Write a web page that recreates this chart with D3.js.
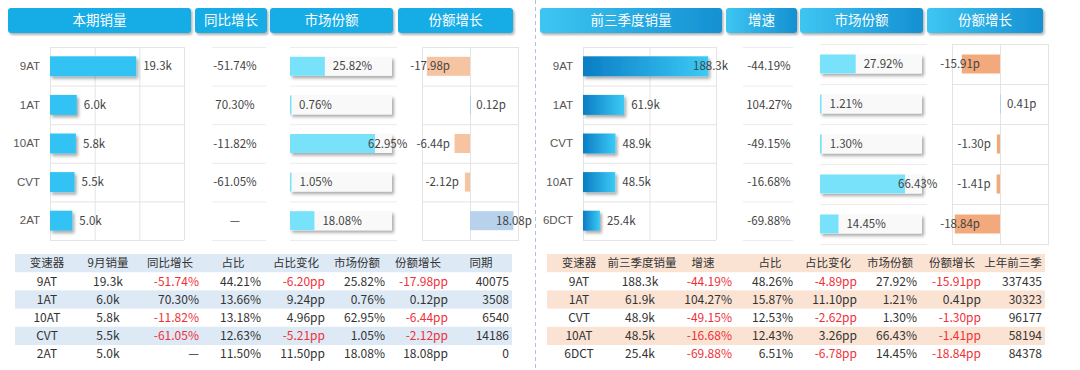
<!DOCTYPE html>
<html><head><meta charset="utf-8">
<script src="https://cdn.jsdelivr.net/npm/d3@7"></script>
<style>
body{margin:0;background:#fff;}
svg{display:block;font-family:"Microsoft YaHei","Noto Sans CJK SC",sans-serif;}
</style>
</head><body>
<svg id="chart" width="1080" height="370"></svg>
<script>
// ---------------- DATA ----------------
// Left panel: current period (September)
const leftButtons = ['本期销量', '同比增长', '市场份额', '份额增长'];
const leftCategories = ['9AT', '1AT', '10AT', 'CVT', '2AT'];
const leftSales = [19.3, 6.0, 5.8, 5.5, 5.0];          // k units
const leftYoY = [-51.74, 70.30, -11.82, -61.05, null];  // %
const leftShare = [25.82, 0.76, 62.95, 1.05, 18.08];    // %
const leftShareChg = [-17.98, 0.12, -6.44, -2.12, 18.08]; // pp
const leftRatio = [44.21, 13.66, 13.18, 12.63, 11.50];
const leftRatioChg = [-6.20, 9.24, 4.96, -5.21, 11.50];
const leftPrev = [40075, 3508, 6540, 14186, 0];
const leftTableHeaders = ['变速器', '9月销量', '同比增长', '占比', '占比变化', '市场份额', '份额增长', '同期'];
const leftSalesTicks = [0, 10, 20, 30];

// Right panel: first three quarters
const rightButtons = ['前三季度销量', '增速', '市场份额', '份额增长'];
const rightCategories = ['9AT', '1AT', 'CVT', '10AT', '6DCT'];
const rightSales = [188.3, 61.9, 48.9, 48.5, 25.4];
const rightYoY = [-44.19, 104.27, -49.15, -16.68, -69.88];
const rightShare = [27.92, 1.21, 1.30, 66.43, 14.45];
const rightShareChg = [-15.91, 0.41, -1.30, -1.41, -18.84];
const rightRatio = [48.26, 15.87, 12.53, 12.43, 6.51];
const rightRatioChg = [-4.89, 11.10, -2.62, 3.26, -6.78];
const rightPrev = [337435, 30323, 96177, 58194, 84378];
const rightTableHeaders = ['变速器', '前三季度销量', '增速', '占比', '占比变化', '市场份额', '份额增长', '上年前三季'];
const rightSalesTicks = [0, 100, 200];

const shareChgDomain = [-20, 20];

// ---------------- SETUP ----------------
const svg = d3.select('#chart');
const defs = svg.append('defs');
const sh = defs.append('filter').attr('id', 'shadow')
  .attr('x', '-10%').attr('y', '-30%').attr('width', '130%').attr('height', '180%');
sh.append('feDropShadow').attr('dx', 2).attr('dy', 2.5).attr('stdDeviation', 1.4)
  .attr('flood-color', '#000').attr('flood-opacity', 0.33);
const sh2 = defs.append('filter').attr('id', 'btnShadow')
  .attr('x', '-5%').attr('y', '-20%').attr('width', '115%').attr('height', '160%');
sh2.append('feDropShadow').attr('dx', 1.5).attr('dy', 2).attr('stdDeviation', 1.2)
  .attr('flood-color', '#000').attr('flood-opacity', 0.3);

function grad(id, c0, c1) {
  const g = defs.append('linearGradient').attr('id', id).attr('x1', '0%').attr('x2', '100%').attr('y1', '0%').attr('y2', '0%');
  g.append('stop').attr('offset', '0%').attr('stop-color', c0);
  g.append('stop').attr('offset', '100%').attr('stop-color', c1);
}
grad('rightBar', '#0a7dc4', '#3ccaf6');
grad('rightBtn', '#3ec6f2', '#1490d2');

const RED = '#ef3038';
const fmtK = v => v.toFixed(1) + 'k';
const fmtPct = v => v == null ? '—' : v.toFixed(2) + '%';
const fmtP = v => v.toFixed(2) + 'p';
const fmtPP = v => v.toFixed(2) + 'pp';
const fmtInt = v => String(v);
const fmtId = v => v;

// separator
svg.append('line').attr('x1', 535.5).attr('x2', 535.5).attr('y1', 0).attr('y2', 370)
  .attr('stroke', '#b0c0e2').attr('stroke-width', 1).attr('stroke-dasharray', '4,3');

function drawPanel(P) {
  const g = svg.append('g');

  // ---- header buttons
  P.btn.forEach((b, i) => {
    g.append('rect').attr('x', b[0]).attr('y', 8).attr('width', b[1] - b[0]).attr('height', 25)
      .attr('rx', 3).attr('fill', P.btnFill).attr('filter', 'url(#btnShadow)');
    g.append('text').attr('x', (b[0] + b[1]) / 2).attr('y', 20.5).attr('dy', '0.35em')
      .attr('text-anchor', 'middle').attr('fill', '#fff').attr('font-size', 13.5)
      .text(P.buttons[i]);
  });

  const gridC = '#e4e4e4';
  const labC = '#444';

  // ---- sales bar chart
  const B = P.bar;
  const y = d3.scaleBand().domain(P.cats).range([B.y0, B.y1]);
  const x = d3.scaleLinear().domain([0, d3.max(P.ticks)]).range([B.x0, B.x1]);
  const gx = g.append('g').attr('transform', `translate(0,${B.y0})`)
    .call(d3.axisTop(x).tickValues(P.ticks).tickSize(-(B.y1 - B.y0)).tickFormat(''));
  gx.select('.domain').remove();
  gx.selectAll('.tick line').attr('stroke', gridC);
  g.selectAll(null).data(P.cats.concat(['__end'])).join('line')
    .attr('x1', B.x0).attr('x2', B.x1)
    .attr('y1', d => (d === '__end' ? B.y1 : y(d)) + 0.5).attr('y2', d => (d === '__end' ? B.y1 : y(d)) + 0.5)
    .attr('stroke', gridC);
  const gy = g.append('g').attr('transform', `translate(${B.x0},0)`)
    .call(d3.axisLeft(y).tickSize(0).tickPadding(10));
  gy.select('.domain').remove();
  gy.selectAll('text').attr('font-size', 11.5).attr('fill', '#555').attr('font-family', null);
  const bh = 20;
  g.selectAll(null).data(P.cats).join('rect')
    .attr('x', x(0)).attr('y', d => y(d) + (y.bandwidth() - bh) / 2)
    .attr('width', (d, i) => x(P.sales[i]) - x(0)).attr('height', bh)
    .attr('fill', P.barFill).attr('filter', 'url(#shadow)');
  g.selectAll(null).data(P.cats).join('text')
    .attr('x', (d, i) => Math.min(x(P.sales[i]) + 7, B.x1 - 23))
    .attr('y', d => y(d) + y.bandwidth() / 2).attr('dy', '0.35em')
    .attr('font-size', 11.5).attr('fill', labC)
    .text((d, i) => fmtK(P.sales[i]));

  // ---- yoy column
  const Y = P.yoyL;
  g.selectAll(null).data(P.cats.concat(['__end'])).join('line')
    .attr('x1', Y.x0).attr('x2', Y.x1)
    .attr('y1', d => (d === '__end' ? B.y1 : y(d)) + 0.5).attr('y2', d => (d === '__end' ? B.y1 : y(d)) + 0.5)
    .attr('stroke', '#ececec');
  g.selectAll(null).data(P.cats).join('text')
    .attr('x', Y.cx).attr('y', d => y(d) + y.bandwidth() / 2).attr('dy', '0.35em')
    .attr('text-anchor', 'middle').attr('font-size', 11.5).attr('fill', labC)
    .text((d, i) => fmtPct(P.yoyV[i]));

  // ---- share column
  const S = P.share;
  const ys = d3.scaleBand().domain(P.cats).range([S.y0, S.y1]);
  const xs = d3.scaleLinear().domain([0, d3.max(P.shareV) * 1.2]).range([S.x0, S.x1]);
  g.selectAll(null).data(P.cats.concat(['__end'])).join('line')
    .attr('x1', S.x0).attr('x2', S.x1 + 5)
    .attr('y1', d => (d === '__end' ? S.y1 : ys(d)) + 0.5).attr('y2', d => (d === '__end' ? S.y1 : ys(d)) + 0.5)
    .attr('stroke', '#ececec');
  const th = 19;
  g.selectAll(null).data(P.cats).join('rect')
    .attr('x', S.x0).attr('y', d => ys(d) + (ys.bandwidth() - th) / 2)
    .attr('width', S.x1 - S.x0).attr('height', th)
    .attr('fill', '#f9f9f9').attr('filter', 'url(#shadow)');
  g.selectAll(null).data(P.cats).join('rect')
    .attr('x', S.x0).attr('y', d => ys(d) + (ys.bandwidth() - th) / 2)
    .attr('width', (d, i) => Math.max(1.5, xs(P.shareV[i]) - xs(0))).attr('height', th)
    .attr('fill', '#78e2fb');
  g.selectAll(null).data(P.cats).join('text')
    .attr('x', (d, i) => Math.min(xs(P.shareV[i]) + 8, S.x1 - 24))
    .attr('y', d => ys(d) + ys.bandwidth() / 2).attr('dy', '0.35em')
    .attr('font-size', 11.5).attr('fill', labC)
    .text((d, i) => P.shareV[i].toFixed(2) + '%');

  // ---- share change column
  const C = P.chg;
  const yc = d3.scaleBand().domain(P.cats).range([C.y0, C.y1]);
  const xc = d3.scaleLinear().domain(shareChgDomain).range([C.x0, C.x1]);
  g.append('rect').attr('x', C.x0 + 0.5).attr('y', C.y0 + 0.5).attr('width', C.x1 - C.x0).attr('height', C.y1 - C.y0)
    .attr('fill', 'none').attr('stroke', gridC);
  g.append('line').attr('x1', xc(0) + 0.5).attr('x2', xc(0) + 0.5).attr('y1', C.y0).attr('y2', C.y1).attr('stroke', gridC);
  g.selectAll(null).data(P.cats.slice(1)).join('line')
    .attr('x1', C.x0).attr('x2', C.x1)
    .attr('y1', d => yc(d) + 0.5).attr('y2', d => yc(d) + 0.5).attr('stroke', gridC);
  g.selectAll(null).data(P.cats).join('rect')
    .attr('x', (d, i) => Math.min(xc(0), xc(P.chgV[i])))
    .attr('y', d => yc(d) + (yc.bandwidth() - th) / 2)
    .attr('width', (d, i) => Math.max(1, Math.abs(xc(P.chgV[i]) - xc(0)))).attr('height', th)
    .attr('fill', (d, i) => P.chgV[i] < 0 ? P.negFill : '#b9d2ec');
  g.selectAll(null).data(P.cats).join('text')
    .attr('x', (d, i) => {
      const v = P.chgV[i];
      return v < 0 ? Math.max(xc(v) - 6, C.x0 + 28) : Math.min(xc(v) + 6, C.x1 - 22);
    })
    .attr('text-anchor', (d, i) => P.chgV[i] < 0 ? 'end' : 'start')
    .attr('y', d => yc(d) + yc.bandwidth() / 2).attr('dy', '0.35em')
    .attr('font-size', 11.5).attr('fill', labC)
    .text((d, i) => fmtP(P.chgV[i]));

  // ---- table
  const T = P.table;
  const rh = 18.2;
  const rowsY = d3.range(P.cats.length + 1).map(i => T.y0 + i * rh);
  g.append('rect').attr('x', T.x0).attr('y', T.y0).attr('width', T.x1 - T.x0).attr('height', rh).attr('fill', P.stripe);
  g.selectAll(null).data(P.cats).join('rect')
    .attr('x', T.x0).attr('y', (d, i) => rowsY[i + 1]).attr('width', T.x1 - T.x0).attr('height', rh)
    .attr('fill', (d, i) => i % 2 === 1 ? P.stripe : 'none');
  const cols = [
    { vals: P.cats, fmt: fmtId, red: false },
    { vals: P.sales, fmt: fmtK, red: false },
    { vals: P.yoyV, fmt: fmtPct, red: true },
    { vals: P.ratio, fmt: fmtPct, red: false },
    { vals: P.ratioChg, fmt: fmtPP, red: true },
    { vals: P.shareV, fmt: fmtPct, red: false },
    { vals: P.chgV, fmt: fmtPP, red: true },
    { vals: P.prev, fmt: fmtInt, red: false }
  ];
  cols.forEach((c, ci) => {
    g.append('text').attr('x', T.hx[ci]).attr('y', T.y0 + rh / 2).attr('dy', '0.35em')
      .attr('text-anchor', 'middle').attr('font-size', 11.5).attr('fill', '#333')
      .text(P.headers[ci]);
    const anchor = ci < 2 ? 'middle' : 'end';
    g.selectAll(null).data(c.vals).join('text')
      .attr('x', T.dx[ci]).attr('y', (d, i) => rowsY[i + 1] + rh / 2).attr('dy', '0.35em')
      .attr('text-anchor', anchor).attr('font-size', 12)
      .attr('fill', d => c.red && d != null && d < 0 ? RED : '#333')
      .text(d => c.fmt(d));
  });
}

drawPanel({
  buttons: leftButtons, btn: [[8, 191], [195, 267], [270, 393], [398, 513]], btnFill: '#17ade7',
  cats: leftCategories, sales: leftSales, yoyV: leftYoY, shareV: leftShare, chgV: leftShareChg,
  ratio: leftRatio, ratioChg: leftRatioChg, prev: leftPrev, headers: leftTableHeaders, ticks: leftSalesTicks,
  barFill: '#33c3f4', negFill: '#f7c4a2', stripe: '#dde9f5',
  bar: { x0: 50, x1: 184, y0: 47, y1: 240 },
  yoyL: { x0: 212, x1: 266, cx: 235 },
  share: { x0: 290, x1: 392, y0: 47, y1: 240 },
  chg: { x0: 422, x1: 518, y0: 47, y1: 240 },
  table: { x0: 15, x1: 512, y0: 254,
    hx: [47, 108, 170, 233, 296, 357, 418, 481],
    dx: [47, 108, 199, 261, 325, 385, 448, 509] }
});

drawPanel({
  buttons: rightButtons, btn: [[540, 722], [726, 797], [800, 923], [927, 1043]], btnFill: 'url(#rightBtn)',
  cats: rightCategories, sales: rightSales, yoyV: rightYoY, shareV: rightShare, chgV: rightShareChg,
  ratio: rightRatio, ratioChg: rightRatioChg, prev: rightPrev, headers: rightTableHeaders, ticks: rightSalesTicks,
  barFill: 'url(#rightBar)', negFill: '#f2a97c', stripe: '#fbe3d3',
  bar: { x0: 583, x1: 716, y0: 47, y1: 240 },
  yoyL: { x0: 743, x1: 793, cx: 769 },
  share: { x0: 820, x1: 922, y0: 44, y1: 244 },
  chg: { x0: 952, x1: 1048, y0: 44, y1: 244 },
  table: { x0: 547, x1: 1045, y0: 254,
    hx: [579, 642, 703, 770, 828, 890, 952, 1013],
    dx: [579, 640, 732, 793, 857, 917, 981, 1042] }
});
</script>
</body></html>
